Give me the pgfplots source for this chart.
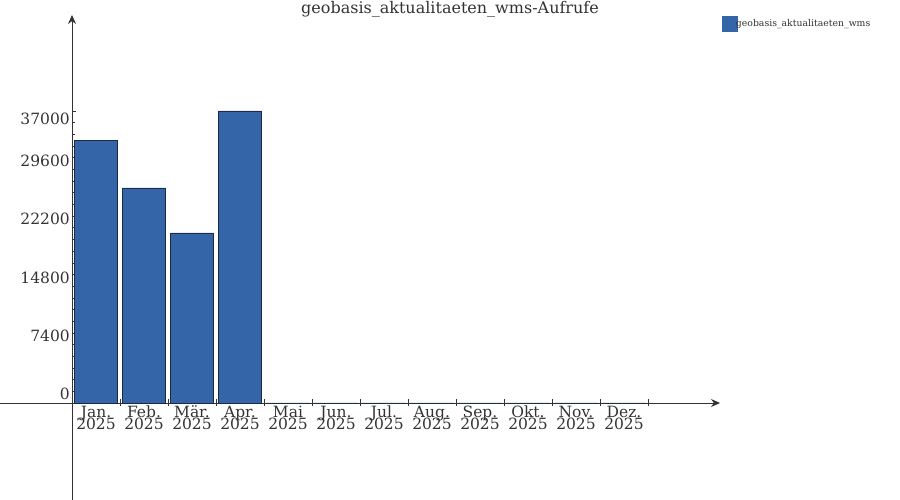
\documentclass[border=0pt]{standalone}
\usepackage{fontspec}
\setmainfont{DejaVu Serif}
\usepackage{pgfplots}
\pgfplotsset{compat=1.18}
\usetikzlibrary{arrows.meta}
\definecolor{barblue}{HTML}{3465A8}
\definecolor{baredge}{HTML}{1C2B45}
\definecolor{txt}{HTML}{333333}
\newcommand{\ml}[1]{\vphantom{Äj}#1\\2025}
\newcommand{\tightfont}{\fontsize{15.5}{12}\selectfont\lineskiplimit=-20pt\relax}
\begin{document}
\begin{tikzpicture}
\path[use as bounding box] (0pt,0pt) rectangle (900pt,500pt);
\begin{axis}[
  at={(0pt,0pt)}, anchor=south west,
  scale only axis, width=720pt, height=485pt,
  axis lines=middle,
  axis line style={txt, line width=0.8pt, -{Stealth[length=9pt,width=8pt]}},
  xmin=-1.5, xmax=13.5, ymin=-12291, ymax=49164,
  scaled y ticks=false,
  ybar, bar width=43pt,
  xtick={0.5,1.5,...,11.5},
  xticklabels={{\ml{Jan.}},{\ml{Feb.}},{\ml{Mär.}},{\ml{Apr.}},{\ml{Mai}},{\ml{Jun.}},{\ml{Jul.}},{\ml{Aug.}},{\ml{Sep.}},{\ml{Okt.}},{\ml{Nov.}},{\ml{Dez.}}},
  major x tick style={draw=none},
  xticklabel style={font=\tightfont, align=center, text=txt, anchor=north, inner sep=0pt, yshift=3.5pt},
  ytick={0,7400,...,37000},
  yticklabels={,,,,,},
  minor y tick num=4,
  ytick align=inside,
  major tick length=4pt, minor tick length=3pt,
  tick style={txt, line width=0.6pt},
  extra y ticks={1140,8490,15840,23310,30660,35980},
  extra y tick labels={0,7400,14800,22200,29600,37000},
  extra y tick style={major tick length=0pt, yticklabel style={font=\fontsize{15.5}{15}\selectfont, text=txt, anchor=east, inner sep=0pt, xshift=-2pt}},
  /pgf/number format/assume math mode=true,
  clip=false,
  legend style={at={(1.003,0.998)}, anchor=north west, draw=none, fill=none, inner sep=0pt, font=\fontsize{9.3}{10}\selectfont, text=txt},
  legend image code/.code={\fill[barblue] (0pt,-7.5pt) rectangle (15pt,7.5pt);},
]
\addplot[fill=barblue, draw=baredge, line width=0.6pt] coordinates {
  (0.5,33300) (1.5,27250) (2.5,21550) (3.5,37000) (4.5,0) (5.5,0)
  (6.5,0) (7.5,0) (8.5,0) (9.5,0) (10.5,0) (11.5,0)
};
\addlegendentry{\hspace{-4pt}geobasis\_aktualitaeten\_wms}
\pgfplotsinvokeforeach{1,...,12}{
  \draw[txt, line width=0.6pt] ([yshift=-3.5pt]axis cs:#1,0) -- ([yshift=3.5pt]axis cs:#1,0);
}
\end{axis}
\node[text=txt, font=\fontsize{16}{16}\selectfont] at (450pt,491pt) {geobasis\_aktualitaeten\_wms-Aufrufe};
\end{tikzpicture}
\end{document}
